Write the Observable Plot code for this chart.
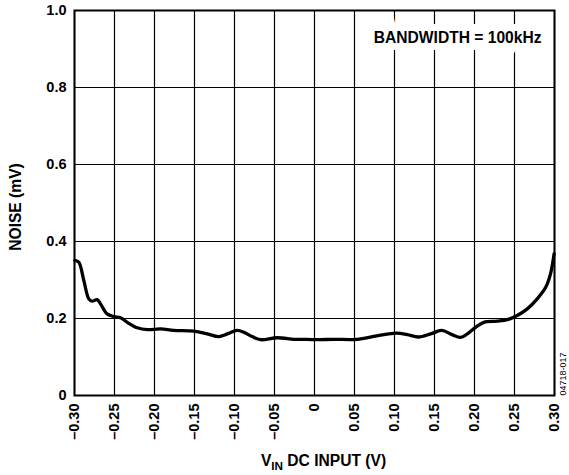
<!DOCTYPE html>
<html><head><meta charset="utf-8">
<script src="https://cdn.jsdelivr.net/npm/d3@7"></script>
<script src="https://cdn.jsdelivr.net/npm/@observablehq/plot@0.6"></script>
<style>
body{margin:0;background:#fff}
#chart svg{font-family:"Liberation Sans",Arial,Helvetica,sans-serif;background:#fff}
</style>
</head><body><div id="chart"></div>
<script>
const vin = [-0.2995,-0.2946,-0.2884,-0.2821,-0.278,-0.2717,-0.2675,-0.2592,-0.2509,-0.2425,-0.234,-0.2217,-0.209,-0.1925,-0.176,-0.151,-0.134,-0.1196,-0.109,-0.0967,-0.088,-0.0779,-0.0675,-0.0467,-0.0259,-0.0175,0.0025,0.024,0.053,0.078,0.103,0.116,0.130,0.145,0.159,0.172,0.1825,0.191,0.2013,0.2117,0.2284,0.241,0.2534,0.266,0.2784,0.289,0.295,0.2995];
const noise = [0.351,0.346,0.299,0.251,0.245,0.249,0.238,0.212,0.205,0.202,0.190,0.176,0.171,0.173,0.169,0.167,0.160,0.153,0.160,0.169,0.164,0.153,0.145,0.150,0.146,0.146,0.145,0.146,0.146,0.155,0.162,0.158,0.152,0.160,0.169,0.158,0.151,0.160,0.177,0.190,0.193,0.197,0.208,0.225,0.251,0.281,0.316,0.368];
const xTicks = [-0.30,-0.25,-0.20,-0.15,-0.10,-0.05,0,0.05,0.10,0.15,0.20,0.25,0.30];
const xTickLabels = ["\u20130.30","\u20130.25","\u20130.20","\u20130.15","\u20130.10","\u20130.05","0","0.05","0.10","0.15","0.20","0.25","0.30"];
const yTicks = [0,0.2,0.4,0.6,0.8,1.0];
const yTickLabels = ["0","0.2","0.4","0.6","0.8","1.0"];
const yLabel = "NOISE (mV)";
const annotation = "BANDWIDTH = 100kHz";
const figureId = "04718-017";

const data = vin.map((v,i)=>({v, n: noise[i]}));
const FT = 14.5;   // tick labels
const FL = 15.6;   // titles / annotation
const plot = Plot.plot({
  width:569, height:475,
  marginLeft:74, marginRight:15, marginTop:10, marginBottom:80,
  style:{fontFamily:"'Liberation Sans',Arial,sans-serif", background:"#fff"},
  x:{domain:[-0.3,0.3], axis:null},
  y:{domain:[0,1], axis:null},
  marks:[
    Plot.ruleX(xTicks, {stroke:"#000", strokeWidth:1.2}),
    Plot.ruleY(yTicks, {stroke:"#000", strokeWidth:1.2}),
    Plot.text([annotation], {frameAnchor:"top-right", dx:-13, dy:27, textAnchor:"end", lineAnchor:"middle",
      fontSize:FL, fontWeight:"bold", fill:"#000", stroke:"#fff", strokeWidth:14, strokeLinejoin:"miter"}),
    Plot.line(data, {x:"v", y:"n", stroke:"#000", strokeWidth:3.3, curve:"catmull-rom"}),
    Plot.frame({stroke:"#000", strokeWidth:2}),
    Plot.text(yTicks, {x:()=>-0.3, y:d=>d, text:(d,i)=>yTickLabels[i], textAnchor:"end", lineAnchor:"middle", dx:-8,
      fontSize:FT, fontWeight:"bold", fill:"#000"}),
    Plot.text(xTicks, {x:d=>d, y:()=>0, text:(d,i)=>xTickLabels[i], rotate:-90, textAnchor:"end", lineAnchor:"middle", dy:8,
      fontSize:FT, fontWeight:"bold", fill:"#000"}),
    Plot.text([yLabel], {frameAnchor:"left", rotate:-90, dx:-59, dy:4, textAnchor:"middle", lineAnchor:"middle",
      fontSize:FL, fontWeight:"bold", fill:"#000"}),
    Plot.text([figureId], {frameAnchor:"bottom-right", rotate:-90, dx:9, dy:0, textAnchor:"start", lineAnchor:"middle",
      fontSize:9, fill:"#000"})
  ]
});
document.getElementById("chart").appendChild(plot);
// x-axis title with subscript
const svg = d3.select(plot);
const xs = plot.scale("x");
const t = svg.append("text")
  .attr("x", xs.apply(0) + 9.5).attr("y", 466)
  .attr("text-anchor","middle")
  .attr("font-size", FL).attr("font-weight","bold").attr("fill","#000");
t.append("tspan").text("V");
t.append("tspan").attr("font-size", FL*0.75).attr("dy", 3.5).text("IN");
t.append("tspan").attr("dy", -3.5).text(" DC INPUT (V)");
</script>
</body></html>
